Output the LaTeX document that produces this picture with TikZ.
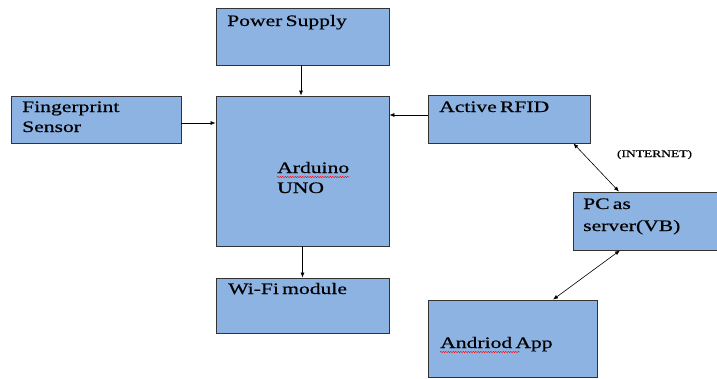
\documentclass[tikz,border=0pt]{standalone}
\usepackage{fontspec}
\setmainfont[FakeStretch=1.35,FakeBold=0.6,WordSpace=0.6]{Liberation Serif}
\usetikzlibrary{arrows.meta,decorations.pathmorphing}
\definecolor{boxblue}{HTML}{8DB3E2}
\definecolor{boxedge}{HTML}{333333}
\tikzset{
  blk/.style={draw=boxedge,fill=boxblue,line width=0.8pt,rectangle,inner sep=0pt},
  lbl/.style={inner sep=0pt,anchor=base west,font=\fontsize{16}{19}\selectfont},
  conn/.style={line width=0.6pt,-{Latex[length=5pt,width=4pt]}},
  bconn/.style={line width=0.6pt,{Latex[length=5pt,width=4pt]}-{Latex[length=5pt,width=4pt]}},
  squig/.style={red,line width=0.4pt,decorate,decoration={snake,amplitude=0.7pt,segment length=2.5pt}}
}
\begin{document}
\begin{tikzpicture}[x=1pt,y=-1pt]
\fill[white] (0,0) rectangle (717,378);
\useasboundingbox (0,0) rectangle (717,378);
% boxes
\node[blk,minimum width=173pt,minimum height=57pt] (power) at (302.5,36.5) {};
\node[blk,minimum width=173pt,minimum height=150pt] (ard) at (302.5,171) {};
\node[blk,minimum width=173pt,minimum height=55pt] (wifi) at (302.5,305.5) {};
\node[blk,minimum width=170pt,minimum height=47pt] (finger) at (96,119.5) {};
\node[blk,minimum width=162pt,minimum height=48pt] (rfid) at (509,119) {};
\node[blk,minimum width=149pt,minimum height=58pt] (pc) at (647.5,221) {};
\node[blk,minimum width=169pt,minimum height=77pt] (app) at (512.5,338.5) {};
% labels
\node[lbl] (tpower) at (227,26) {Power Supply};
\node[lbl] (tfa) at (22,112) {Fingerprint};
\node[lbl] (tfb) at (22,132) {Sensor};
\node[lbl] (tard) at (277,173) {Arduino};
\node[lbl] (tuno) at (277,193) {UNO};
\node[lbl] (trfid) at (439,112) {Active RFID};
\node[lbl] (tpca) at (583,209) {PC as};
\node[lbl] (tpcb) at (583,231) {server(VB)};
\node[lbl] (twifi) at (228,294) {Wi-Fi module};
\node[lbl] (tapp) at (440,348) {Andriod App};
\node[inner sep=0pt,anchor=base,font=\fontsize{10}{12}\selectfont] (tnet) at (654.5,157) {(INTERNET)};
% spell-check squiggles
\draw[squig] ([yshift=-4pt]tard.base west) -- ([yshift=-4pt]tard.base east);
\draw[squig] ([yshift=-4pt]tapp.base west) -- ([yshift=-4pt,xshift=-33pt]tapp.base east);
% connectors
\draw[conn] ([xshift=-1.5pt]power.south) -- ([xshift=-1.5pt]ard.north);
\draw[conn] ([yshift=-3.5pt]finger.east) -- ([yshift=-3.5pt]finger.east -| ard.west);
\draw[conn] ([yshift=4pt]rfid.west) -- ([yshift=4pt]rfid.west -| ard.east);
\draw[conn] (ard.south) -- (wifi.north);
\draw[bconn] ([xshift=-17pt]rfid.south east) -- ([xshift=-28.5pt]pc.north);
\draw[bconn] ([xshift=-27.5pt]pc.south) -- ([xshift=40.5pt]app.north);
\end{tikzpicture}
\end{document}
